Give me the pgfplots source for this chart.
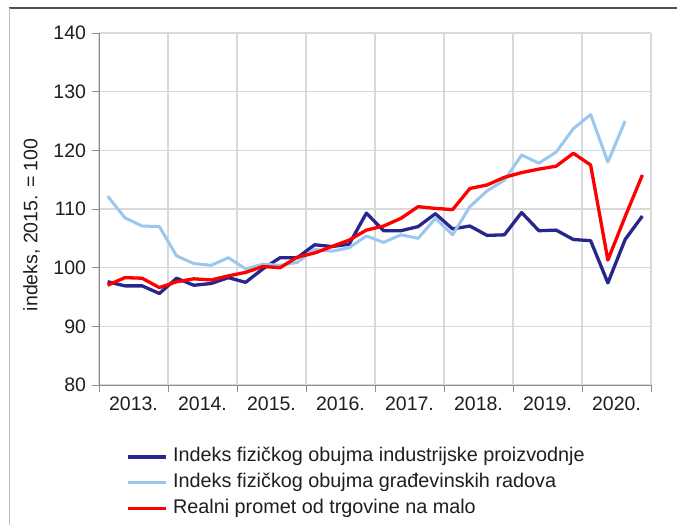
\documentclass[border=0pt]{standalone}
\usepackage{pgfplots}
\pgfplotsset{compat=1.18}
\usepackage{fontspec}
\setmainfont{Liberation Sans}
\definecolor{indblue}{RGB}{38,38,140}
\definecolor{conblue}{RGB}{153,199,238}
\definecolor{retred}{RGB}{255,0,0}
\definecolor{gridgray}{RGB}{217,217,217}
\definecolor{axgray}{RGB}{140,140,140}
\definecolor{txt}{RGB}{30,30,30}
\begin{document}
\begin{tikzpicture}
\path[use as bounding box] (0bp,0bp) rectangle (677bp,525bp);
\draw[color={rgb,255:red,80;green,80;blue,80}, line width=1.4bp] (9bp,517bp) -- (677bp,517bp);
\draw[color={rgb,255:red,190;green,190;blue,190}, line width=1bp] (9bp,517bp) -- (9bp,0bp);
\begin{axis}[
  at={(99bp,140bp)}, anchor=south west,
  scale only axis, width=552bp, height=352bp,
  xmin=-0.5, xmax=31.5, ymin=80, ymax=140,
  axis x line*=bottom, axis y line*=left,
  axis line style={-, color=axgray, line width=1bp},
  xtick={-0.5,3.5,...,31.5}, xticklabels={},
  ytick={80,90,...,140},
  tick align=outside, major tick length=6.5bp,
  tick style={color=axgray, line width=1bp},
  grid=major, major grid style={color=gridgray, line width=1.3bp},
  extra x ticks={1.5,5.5,...,29.5},
  extra x tick labels={2013.,2014.,2015.,2016.,2017.,2018.,2019.,2020.},
  extra x tick style={major tick length=0pt, grid=none,
     tick label style={yshift=-8bp}},
  /pgf/number format/assume math mode=true,
  tick label style={font=\fontsize{19.5bp}{23bp}\selectfont, text=txt},
  yticklabel style={xshift=-3bp},
  ylabel={indeks, 2015. = 100},
  ylabel style={at={(axis description cs:-0.122,0.455)}, anchor=center, rotate=0,
     font=\fontsize{19.5bp}{23bp}\selectfont, text=txt},
  legend style={at={(0.05,-0.178)}, anchor=north west, draw=none, fill=none,
     inner sep=0pt, font=\fontsize{19.8bp}{23bp}\selectfont, text=txt,
     nodes={inner sep=0pt, text height=14bp, text depth=4bp},
     row sep=7.7bp},
  legend cell align=left,
  legend image code/.code={\draw[#1] (0bp,0bp) -- (38bp,0bp); \path (43bp,0bp);},
  line join=round,
]
\addplot[indblue, line width=3.3bp] coordinates {
(0,97.6) (1,96.9) (2,96.9) (3,95.6) (4,98.2) (5,97.0) (6,97.3) (7,98.3)
(8,97.5) (9,99.8) (10,101.7) (11,101.7) (12,103.9) (13,103.6) (14,104.0) (15,109.3)
(16,106.3) (17,106.3) (18,107.0) (19,109.2) (20,106.6) (21,107.1) (22,105.5) (23,105.6)
(24,109.4) (25,106.3) (26,106.4) (27,104.8) (28,104.6) (29,97.4) (30,104.8) (31,108.8)};
\addlegendentry{Indeks fizičkog obujma industrijske proizvodnje}
\addplot[conblue, line width=3bp] coordinates {
(0,112.2) (1,108.5) (2,107.1) (3,107.0) (4,102.0) (5,100.7) (6,100.4) (7,101.7)
(8,99.8) (9,100.6) (10,100.4) (11,100.9) (12,103.1) (13,102.8) (14,103.4) (15,105.4)
(16,104.3) (17,105.6) (18,105.0) (19,108.4) (20,105.6) (21,110.4) (22,113.1) (23,114.9)
(24,119.2) (25,117.8) (26,119.7) (27,123.7) (28,126.1) (29,118.0) (30,125.0)};
\addlegendentry{Indeks fizičkog obujma građevinskih radova}
\addplot[retred, line width=3.3bp] coordinates {
(0,97.0) (1,98.3) (2,98.2) (3,96.6) (4,97.6) (5,98.1) (6,97.9) (7,98.6)
(8,99.2) (9,100.2) (10,100.0) (11,101.8) (12,102.5) (13,103.6) (14,104.7) (15,106.4)
(16,107.1) (17,108.4) (18,110.4) (19,110.1) (20,109.9) (21,113.5) (22,114.1) (23,115.4)
(24,116.2) (25,116.8) (26,117.3) (27,119.5) (28,117.5) (29,101.3) (30,108.7) (31,115.8)};
\addlegendentry{Realni promet od trgovine na malo}
\end{axis}
\end{tikzpicture}
\end{document}
